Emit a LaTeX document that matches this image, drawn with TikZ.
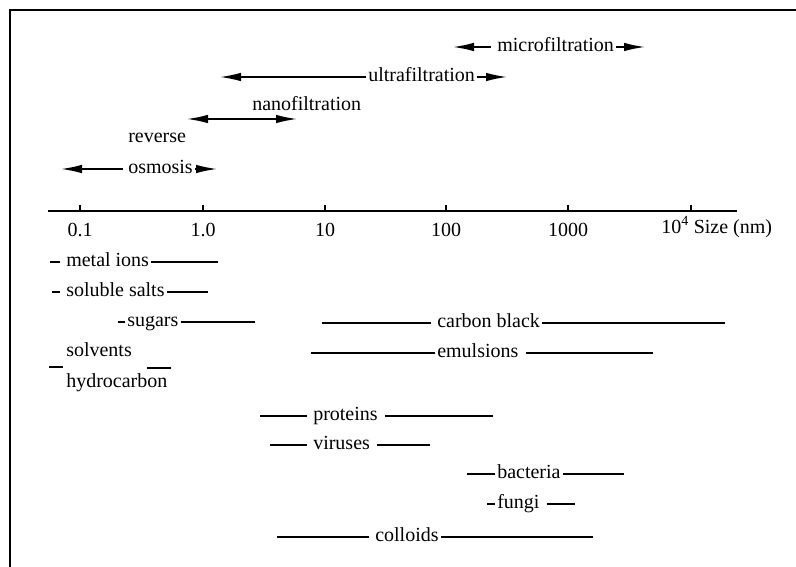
\documentclass[tikz,border=0pt]{standalone}
\usepackage{fontspec}
\setmainfont{Liberation Serif}
\usetikzlibrary{arrows.meta,positioning}

\begin{document}
\begin{tikzpicture}[x=1pt,y=-1pt, line width=1.5pt,
 every node/.style={font=\fontsize{20}{23}\selectfont},
 lbl/.style={inner sep=1.5pt,text height=13pt,text depth=4pt,anchor=west},
 gapl/.style={shorten >=4pt},
 gapr/.style={shorten <=5pt},
 tip/.style={-{Latex[length=21pt,width=8.5pt]}},
 tips/.style={{Latex[length=21pt,width=8.5pt]}-{Latex[length=21pt,width=8.5pt]}}]
\useasboundingbox (0,0) rectangle (796,567);
\draw[line width=2pt] (10,567)--(10,10)--(796,10);
% filtration ranges
\node[lbl] (micro) at (495,47) {microfiltration};
\coordinate (micro1) at (453,47); \coordinate (micro2) at (645,47);
\draw[tip,shorten <=4pt] (micro.west)--(micro1);
\draw[tip] (micro.east)--(micro2);
\node[lbl] (ultra) at (366,77) {ultrafiltration};
\coordinate (ultra1) at (220,77); \coordinate (ultra2) at (507,77);
\draw[tip] (ultra.west)--(ultra1);
\draw[tip] (ultra.east)--(ultra2);
\coordinate (nano1) at (187,119); \coordinate (nano2) at (297,119);
\node[lbl] (nano) at (250,106) {nanofiltration};
\draw[tips] (nano1)--(nano2);
\node[lbl] (osmo) at (126,169) {osmosis};
\node[lbl] (rev) at (126,138) {reverse};
\coordinate (osmo1) at (61,169); \coordinate (osmo2) at (217,169);
\draw[tip,shorten <=3pt] (osmo.west)--(osmo1);
\draw[tip] (osmo.east)--(osmo2);
% size axis
\coordinate (ax1) at (48,211); \coordinate (ax2) at (737,211);
\draw (ax1)--(ax2);
\foreach \x/\t in {80/0.1,203/1.0,325/10,446/100,568/1000}{
 \draw (\x,205)--(\x,211);
 \node (t\x) at (\x,230) {\t};
}
\draw (691,205)--(691,211);
\node[lbl] (size) at (659,229) {10\textsuperscript{4} Size (nm)};
% solutes and particles
\node[lbl] (ions) at (64,262) {metal ions};
\coordinate (ions1) at (50,262); \coordinate (ions2) at (218,262);
\draw[gapl] (ions1)--(ions.west); \draw (ions.east)--(ions2);
\node[lbl] (salts) at (64,292) {soluble salts};
\coordinate (salts1) at (52,292); \coordinate (salts2) at (208,292);
\draw[gapl] (salts1)--(salts.west); \draw (salts.east)--(salts2);
\node[lbl] (sugar) at (125,322) {sugars};
\coordinate (sugar1) at (118,322); \coordinate (sugar2) at (255,322);
\draw (sugar1)--(sugar.west); \draw (sugar.east)--(sugar2);
\node[lbl] (carbon) at (435,323) {carbon black};
\coordinate (carbon1) at (322,323); \coordinate (carbon2) at (725,323);
\draw[gapl] (carbon1)--(carbon.west); \draw (carbon.east)--(carbon2);
\node[lbl] (solv) at (64,352) {solvents};
\node[lbl] (hydro) at (64,383) {hydrocarbon};
\coordinate (solv1) at (49,367); \coordinate (solv2) at (63,367);
\coordinate (solv3) at (147,368); \coordinate (solv4) at (171,368);
\draw (solv1)--(solv2); \draw (solv3)--(solv4);
\node[lbl] (emul) at (435,353) {emulsions};
\coordinate (emul1) at (311,353); \coordinate (emul2) at (653,353);
\draw (emul1)--(emul.west); \draw[gapr] (emul.east)--(emul2);
\node[lbl] (prot) at (311,416) {proteins};
\coordinate (prot1) at (260,416); \coordinate (prot2) at (493,416);
\draw[gapl] (prot1)--(prot.west); \draw[gapr] (prot.east)--(prot2);
\node[lbl] (vir) at (311,445) {viruses};
\coordinate (vir1) at (270,445); \coordinate (vir2) at (430,445);
\draw[gapl] (vir1)--(vir.west); \draw[gapr] (vir.east)--(vir2);
\node[lbl] (bact) at (495,474) {bacteria};
\coordinate (bact1) at (467,474); \coordinate (bact2) at (624,474);
\draw (bact1)--(bact.west); \draw (bact.east)--(bact2);
\node[lbl] (fungi) at (495,504) {fungi};
\coordinate (fungi1) at (487,504); \coordinate (fungi2) at (575,504);
\draw (fungi1)--(fungi.west); \draw[gapr] (fungi.east)--(fungi2);
\node[lbl] (coll) at (373,537) {colloids};
\coordinate (coll1) at (277,537); \coordinate (coll2) at (593,537);
\draw[gapl] (coll1)--(coll.west); \draw (coll.east)--(coll2);
\end{tikzpicture}
\end{document}
